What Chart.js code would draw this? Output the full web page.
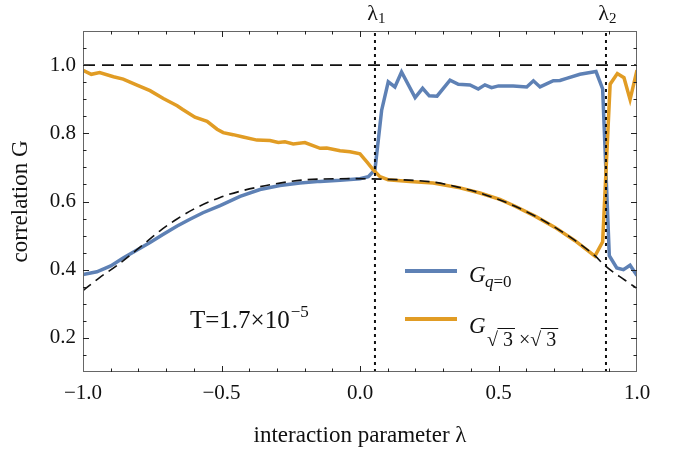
<!DOCTYPE html>
<html>
<head>
<meta charset="utf-8">
<script src="https://cdn.jsdelivr.net/npm/chart.js@4.4.1/dist/chart.umd.min.js"></script>
<style>
  html, body { margin: 0; padding: 0; background: #fff; }
</style>
</head>
<body>
<canvas id="chart" width="694" height="461"></canvas>
<script>
// critical points
const lambda1 = 0.054;
const lambda2 = 0.888;

const xTicks = [-1, -0.5, 0, 0.5, 1];
const yTicks = [0.2, 0.4, 0.6, 0.8, 1.0];

// G_{q=0}
const lamQ0 = [-1.0, -0.95, -0.9, -0.855, -0.805, -0.758, -0.71, -0.66, -0.614, -0.567, -0.505, -0.433,
  -0.361, -0.289, -0.217, -0.144, -0.072, 0.0, 0.03, 0.054, 0.078, 0.102, 0.126, 0.15, 0.199, 0.226,
  0.25, 0.278, 0.325, 0.355, 0.397, 0.427, 0.451, 0.475, 0.5, 0.553, 0.602, 0.626, 0.65, 0.698, 0.722,
  0.746, 0.794, 0.852, 0.876, 0.9, 0.927, 0.951, 0.975, 1.0];
const gQ0 = [0.386, 0.394, 0.411, 0.434, 0.458, 0.480, 0.504, 0.528, 0.548, 0.567, 0.588, 0.615,
  0.635, 0.647, 0.654, 0.659, 0.662, 0.667, 0.673, 0.693, 0.867, 0.951, 0.936, 0.980, 0.905, 0.932,
  0.910, 0.909, 0.956, 0.944, 0.942, 0.930, 0.942, 0.934, 0.939, 0.939, 0.936, 0.954, 0.936, 0.954, 0.955,
  0.961, 0.973, 0.981, 0.930, 0.441, 0.405, 0.400, 0.413, 0.383];

// G_{sqrt3 x sqrt3}
const lamS3 = [-1.0, -0.97, -0.94, -0.89, -0.855, -0.805, -0.758, -0.71, -0.66, -0.64, -0.596, -0.552,
  -0.516, -0.494, -0.458, -0.422, -0.372, -0.325, -0.295, -0.271, -0.241, -0.199, -0.144, -0.12, -0.072,
  -0.036, 0.0, 0.024, 0.048, 0.072, 0.101, 0.18, 0.264, 0.361, 0.433, 0.505, 0.56, 0.632, 0.704, 0.776,
  0.848, 0.876, 0.903, 0.929, 0.953, 0.975, 1.0];
const gS3 = [0.985, 0.973, 0.978, 0.966, 0.959, 0.941, 0.925, 0.902, 0.881, 0.870, 0.847, 0.835,
  0.812, 0.802, 0.796, 0.789, 0.780, 0.779, 0.773, 0.775, 0.769, 0.773, 0.756, 0.757, 0.749,
  0.746, 0.740, 0.717, 0.693, 0.673, 0.664, 0.659, 0.654, 0.640, 0.625, 0.606, 0.586, 0.557, 0.524, 0.485,
  0.440, 0.482, 0.944, 0.975, 0.963, 0.899, 0.985];

// dashed reference curve
const lamFit = [-1.0, -0.94, -0.878, -0.794, -0.722, -0.662, -0.59, -0.505, -0.433, -0.325, -0.206, -0.024,
  0.1, 0.264, 0.36, 0.433, 0.56, 0.704, 0.848, 0.884, 0.957, 1.0];
const gFit = [0.339, 0.377, 0.412, 0.466, 0.514, 0.548, 0.582, 0.612, 0.630, 0.649, 0.663, 0.667,
  0.665, 0.657, 0.641, 0.625, 0.586, 0.524, 0.441, 0.412, 0.369, 0.345];

const blue = '#5E81B5';
const orange = '#E19C24';
const serif = '"Liberation Serif", "Times New Roman", serif';

const pts = (xs, ys) => xs.map((x, i) => ({ x, y: ys[i] }));
const fmt = v => v.toFixed(1).replace('-', '\u2212');

const framePlugin = {
  id: 'frame',
  afterDatasetsDraw(chart) {
    const { ctx, chartArea: a, scales: { x, y } } = chart;
    ctx.save();
    ctx.strokeStyle = '#666';
    ctx.lineWidth = 1;
    ctx.strokeRect(a.left + 0.5, a.top + 0.5, a.right - a.left - 1, a.bottom - a.top - 1);
    ctx.strokeStyle = '#222';
    ctx.beginPath();
    for (let i = -9; i <= 9; i++) {
      const len = i % 5 === 0 ? 6 : 3.5;
      const px = Math.round(x.getPixelForValue(i / 10)) + 0.5;
      ctx.moveTo(px, a.bottom); ctx.lineTo(px, a.bottom - len);
      ctx.moveTo(px, a.top); ctx.lineTo(px, a.top + len);
    }
    for (let i = 3; i <= 21; i++) {
      const len = i % 4 === 0 ? 6 : 3.5;
      const py = Math.round(y.getPixelForValue(i / 20)) + 0.5;
      ctx.moveTo(a.left, py); ctx.lineTo(a.left + len, py);
      ctx.moveTo(a.right, py); ctx.lineTo(a.right - len, py);
    }
    ctx.stroke();
    ctx.restore();
  },
  afterDraw(chart) {
    const { ctx, scales: { x } } = chart;
    ctx.save();
    ctx.fillStyle = '#111';
    ctx.textBaseline = 'alphabetic';

    // lambda labels above the frame
    [[lambda1, '1'], [lambda2, '2']].forEach(([v, s]) => {
      const px = x.getPixelForValue(v);
      ctx.font = '22px ' + serif;
      ctx.textAlign = 'right';
      ctx.fillText('\u03bb', px + 3, 20);
      ctx.font = '15px ' + serif;
      ctx.textAlign = 'left';
      ctx.fillText(s, px + 3, 23);
    });

    // temperature
    ctx.textAlign = 'left';
    ctx.font = '25px ' + serif;
    ctx.fillText('T=1.7\u00d710', 190, 328);
    const tw = ctx.measureText('T=1.7\u00d710').width;
    ctx.font = '17px ' + serif;
    ctx.fillText('\u22125', 190 + tw + 1, 317);

    // legend
    ctx.lineWidth = 4;
    ctx.strokeStyle = blue;
    ctx.beginPath(); ctx.moveTo(405, 271); ctx.lineTo(457, 271); ctx.stroke();
    ctx.strokeStyle = orange;
    ctx.beginPath(); ctx.moveTo(405, 319); ctx.lineTo(457, 319); ctx.stroke();

    ctx.font = 'italic 23px ' + serif;
    ctx.fillText('G', 469, 282);
    ctx.font = 'italic 17px ' + serif;
    ctx.fillText('q', 485, 287);
    const qw = ctx.measureText('q').width;
    ctx.font = '17px ' + serif;
    ctx.fillText('=0', 485 + qw, 287);

    ctx.font = 'italic 23px ' + serif;
    ctx.fillText('G', 469, 333);
    ctx.font = '20px ' + serif;
    let cx = 487;
    const bl = 346;
    ctx.lineWidth = 1;
    ctx.strokeStyle = '#111';
    const radical = () => {
      ctx.fillText('\u221a', cx, bl);
      cx += ctx.measureText('\u221a').width;
      ctx.fillText(' 3', cx, bl);
      const w3 = ctx.measureText(' 3').width;
      ctx.beginPath();
      ctx.moveTo(cx - 0.5, bl - 17.5); ctx.lineTo(cx + w3 + 2, bl - 17.5);
      ctx.stroke();
      cx += w3;
    };
    radical();
    cx += 6;
    ctx.fillText('\u00d7', cx, bl);
    cx += ctx.measureText('\u00d7').width;
    radical();

    ctx.restore();
  }
};

const lineOpts = { pointRadius: 0, fill: false, tension: 0 };

new Chart(document.getElementById('chart'), {
  type: 'line',
  data: {
    datasets: [
      { ...lineOpts, label: 'fit', data: pts(lamFit, gFit), borderColor: '#111', borderWidth: 1.6,
        borderDash: [10, 6], tension: 0.4, cubicInterpolationMode: 'monotone', order: 0 },
      { ...lineOpts, label: 'one', data: [{ x: -1, y: 1 }, { x: 1, y: 1 }], borderColor: '#111',
        borderWidth: 1.6, borderDash: [12, 7], order: 0 },
      { ...lineOpts, label: 'l1', data: [{ x: lambda1, y: 0.1 }, { x: lambda1, y: 1.1 }], borderColor: '#111',
        borderWidth: 2, borderDash: [3, 4], order: 0 },
      { ...lineOpts, label: 'l2', data: [{ x: lambda2, y: 0.1 }, { x: lambda2, y: 1.1 }], borderColor: '#111',
        borderWidth: 2, borderDash: [3, 4], order: 0 },
      { ...lineOpts, label: 'G sqrt3', data: pts(lamS3, gS3), borderColor: orange, borderWidth: 3.5, order: 1 },
      { ...lineOpts, label: 'G q=0', data: pts(lamQ0, gQ0), borderColor: blue, borderWidth: 3.5, order: 2 }
    ]
  },
  options: {
    responsive: false,
    animation: false,
    layout: { padding: { top: 31, right: 57, left: 0, bottom: 0 } },
    plugins: { legend: { display: false }, tooltip: { enabled: false } },
    scales: {
      x: {
        type: 'linear', min: -1, max: 1,
        afterBuildTicks: s => { s.ticks = xTicks.map(v => ({ value: v })); },
        afterFit: s => { s.height = 89; },
        grid: { display: false, drawTicks: false },
        border: { display: false },
        ticks: { padding: 9, color: '#111', font: { family: serif, size: 21 }, callback: fmt,
          maxRotation: 0, autoSkip: false },
        title: { display: true, text: 'interaction parameter \u03bb', color: '#111',
          font: { family: serif, size: 23 }, padding: { top: 0, bottom: 11 } }
      },
      y: {
        type: 'linear', min: 0.1, max: 1.1,
        afterBuildTicks: s => { s.ticks = yTicks.map(v => ({ value: v })); },
        afterFit: s => { s.width = 83; },
        grid: { display: false, drawTicks: false },
        border: { display: false },
        ticks: { padding: 7, color: '#111', font: { family: serif, size: 21 }, callback: fmt, autoSkip: false },
        title: { display: true, text: 'correlation G', color: '#111',
          font: { family: serif, size: 23 }, padding: { top: 7, bottom: 0 } }
      }
    }
  },
  plugins: [framePlugin]
});
</script>
</body>
</html>
